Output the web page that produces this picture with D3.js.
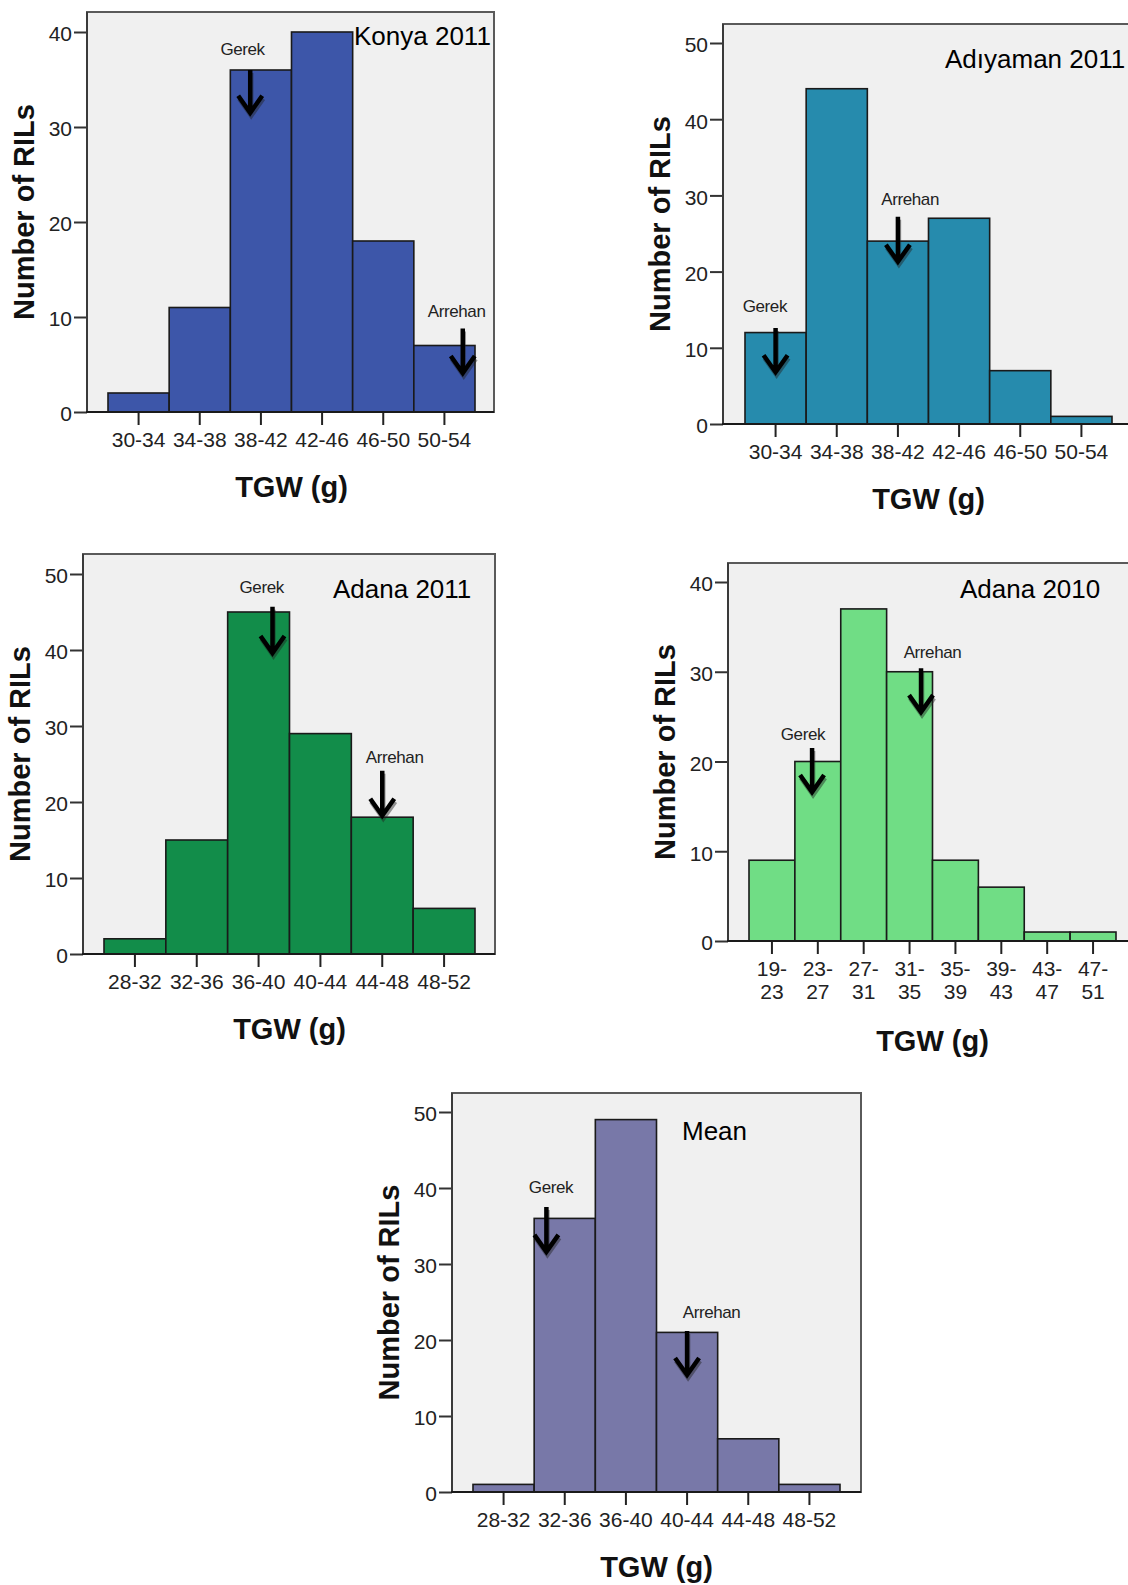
<!DOCTYPE html>
<html>
<head>
<meta charset="utf-8">
<script src="https://cdn.jsdelivr.net/npm/d3@7"></script>
<style>
  body { margin: 0; background: #fff; }
  svg text { font-family: "Liberation Sans", Arial, sans-serif; }
</style>
</head>
<body>
<div id="chart"></div>
<script>
// bins (TGW classes, g) and counts of RILs per bin
const konyaBins = ["30-34", "34-38", "38-42", "42-46", "46-50", "50-54"];
const konyaCounts = [2, 11, 36, 40, 18, 7];

const adiyamanBins = ["30-34", "34-38", "38-42", "42-46", "46-50", "50-54"];
const adiyamanCounts = [12, 44, 24, 27, 7, 1];

const adana2011Bins = ["28-32", "32-36", "36-40", "40-44", "44-48", "48-52"];
const adana2011Counts = [2, 15, 45, 29, 18, 6];

const adana2010Bins = ["19-23", "23-27", "27-31", "31-35", "35-39", "39-43", "43-47", "47-51"];
const adana2010Counts = [9, 20, 37, 30, 9, 6, 1, 1];

const meanBins = ["28-32", "32-36", "36-40", "40-44", "44-48", "48-52"];
const meanCounts = [1, 36, 49, 21, 7, 1];

// parent arrows: x in g (TGW), top / tip / label in counts
const konyaArrows = [
    { name: "Gerek", tgw: 39.3, top: 36.0, tip: 31.5, labelTgw: 38.8, labelY: 37.6 },
    { name: "Arrehan", tgw: 53.2, top: 8.8, tip: 4.1, labelTgw: 52.8, labelY: 10.0 }
];
const adiyamanArrows = [
    { name: "Gerek", tgw: 32.0, top: 12.6, tip: 6.8, labelTgw: 31.3, labelY: 14.7 },
    { name: "Arrehan", tgw: 40.0, top: 27.2, tip: 21.3, labelTgw: 40.8, labelY: 28.7 }
];
const adana2011Arrows = [
    { name: "Gerek", tgw: 38.9, top: 45.7, tip: 39.6, labelTgw: 38.2, labelY: 47.5 },
    { name: "Arrehan", tgw: 46.0, top: 24.1, tip: 18.2, labelTgw: 46.8, labelY: 25.1 }
];
const adana2010Arrows = [
    { name: "Gerek", tgw: 24.5, top: 21.5, tip: 16.6, labelTgw: 23.7, labelY: 22.4 },
    { name: "Arrehan", tgw: 34.0, top: 30.4, tip: 25.5, labelTgw: 35.0, labelY: 31.5 }
];
const meanArrows = [
    { name: "Gerek", tgw: 32.8, top: 37.5, tip: 31.6, labelTgw: 33.1, labelY: 39.3 },
    { name: "Arrehan", tgw: 42.0, top: 21.2, tip: 15.4, labelTgw: 43.6, labelY: 22.9 }
];

const xTitle = "TGW (g)";
const yTitle = "Number of RILs";

const panels = [
    { title: "Konya 2011", bins: konyaBins, counts: konyaCounts, arrows: konyaArrows, color: "#3d56a9",
      frame: { left: 87, right: 494, top: 12, bottom: 412 }, barRange: [108, 475], yMax: 40, yMaxPx: 32,
      titlePos: [354, 45] },
    { title: "Adıyaman 2011", bins: adiyamanBins, counts: adiyamanCounts, arrows: adiyamanArrows, color: "#268bad",
      frame: { left: 723, right: 1133, top: 24, bottom: 424 }, barRange: [745, 1112], yMax: 50, yMaxPx: 43,
      titlePos: [945, 68] },
    { title: "Adana 2011", bins: adana2011Bins, counts: adana2011Counts, arrows: adana2011Arrows, color: "#128d4a",
      frame: { left: 83, right: 495, top: 554, bottom: 954 }, barRange: [104, 475], yMax: 50, yMaxPx: 574,
      titlePos: [333, 598] },
    { title: "Adana 2010", bins: adana2010Bins, counts: adana2010Counts, arrows: adana2010Arrows, color: "#70dd85",
      frame: { left: 728, right: 1137, top: 563, bottom: 941 }, barRange: [749, 1116], yMax: 40, yMaxPx: 582,
      titlePos: [960, 598], twoLine: true },
    { title: "Mean", bins: meanBins, counts: meanCounts, arrows: meanArrows, color: "#7878a8",
      frame: { left: 452, right: 861, top: 1093, bottom: 1492 }, barRange: [473, 840], yMax: 50, yMaxPx: 1112,
      titlePos: [682, 1140] }
];

/**
 * draws one SPSS style histogram panel
 * @param {object} svg d3 selection of the svg
 * @param {object} p panel settings
 */
function renderHistogram(svg, p) {
    const f = p.frame;
    const g = svg.append("g");

    const xScale = d3.scaleBand()
                    .domain(p.bins)
                    .range(p.barRange)
                    .padding(0);
    const edges = p.bins.map(b => +b.split("-")[0]).concat([+p.bins[p.bins.length - 1].split("-")[1]]);
    const tgwScale = d3.scaleLinear()
                    .domain([edges[0], edges[edges.length - 1]])
                    .range(p.barRange);
    const yScale = d3.scaleLinear()
                    .domain([0, p.yMax])
                    .range([f.bottom, p.yMaxPx]);

    g.append("rect")
        .attr("x", f.left)
        .attr("y", f.top)
        .attr("width", f.right - f.left)
        .attr("height", f.bottom - f.top)
        .attr("fill", "#f0f0f0")
        .attr("stroke", "#5a5a5a")
        .attr("stroke-width", 2);

    g.append("g")
        .selectAll("rect")
        .data(p.counts)
        .enter()
        .append("rect")
        .attr("x", (d, i) => xScale(p.bins[i]))
        .attr("y", d => yScale(d))
        .attr("width", xScale.bandwidth())
        .attr("height", d => yScale(0) - yScale(d))
        .attr("fill", p.color)
        .attr("stroke", "#1a1a1a")
        .attr("stroke-width", 1.6);

    const yAxis = d3.axisLeft(yScale)
                    .tickValues(d3.range(0, p.yMax + 1, 10))
                    .tickSize(13)
                    .tickPadding(2);
    const yg = g.append("g")
        .attr("transform", `translate(${f.left},0)`)
        .call(yAxis);
    yg.select(".domain").remove();
    yg.selectAll("line").attr("stroke", "#333").attr("stroke-width", 2);
    yg.selectAll("text")
        .attr("font-size", 21)
        .attr("fill", "#222")
        .attr("dy", "0.42em");

    const xAxis = d3.axisBottom(xScale)
                    .tickSize(13)
                    .tickPadding(7);
    const xg = g.append("g")
        .attr("transform", `translate(0,${f.bottom})`)
        .call(xAxis);
    xg.select(".domain").remove();
    xg.selectAll("line").attr("stroke", "#222").attr("stroke-width", 2);
    xg.selectAll("text")
        .attr("font-size", 21)
        .attr("fill", "#222");
    if (p.twoLine) {
        xg.selectAll("text").each(function(d) {
            const parts = d.split("-");
            const t = d3.select(this).text(null);
            t.append("tspan").attr("x", 0).text(parts[0] + "-");
            t.append("tspan").attr("x", 0).attr("dy", 23).text(parts[1]);
        });
    }

    // axis lines
    g.append("line")
        .attr("x1", f.left).attr("x2", f.left)
        .attr("y1", f.top).attr("y2", f.bottom)
        .attr("stroke", "#3a3a3a")
        .attr("stroke-width", 2);
    g.append("line")
        .attr("x1", f.left - 1).attr("x2", f.right)
        .attr("y1", f.bottom).attr("y2", f.bottom)
        .attr("stroke", "#1a1a1a")
        .attr("stroke-width", 2);

    // parent arrows
    const arrowPath = a => {
        const x = tgwScale(a.tgw), y0 = yScale(a.top), y1 = yScale(a.tip);
        return `M${x},${y0}L${x},${y1 - 3}M${x - 12},${y1 - 17}L${x},${y1}L${x + 12},${y1 - 17}`;
    };
    const ag = g.append("g");
    ag.selectAll("path.shadow")
        .data(p.arrows)
        .enter()
        .append("path")
        .attr("d", arrowPath)
        .attr("transform", "translate(1,3)")
        .attr("fill", "none")
        .attr("stroke", "#222")
        .attr("stroke-opacity", 0.45)
        .attr("stroke-width", 4.5);
    ag.selectAll("path.arrow")
        .data(p.arrows)
        .enter()
        .append("path")
        .attr("d", arrowPath)
        .attr("fill", "none")
        .attr("stroke", "#000")
        .attr("stroke-width", 4.5);
    ag.selectAll("text")
        .data(p.arrows)
        .enter()
        .append("text")
        .attr("x", a => tgwScale(a.labelTgw))
        .attr("y", a => yScale(a.labelY))
        .attr("text-anchor", "middle")
        .attr("font-size", 17)
        .attr("letter-spacing", -0.4)
        .attr("fill", "#222")
        .text(a => a.name);

    // panel title
    g.append("text")
        .attr("x", p.titlePos[0])
        .attr("y", p.titlePos[1])
        .attr("font-size", 26)
        .attr("fill", "#000")
        .text(p.title);

    // axis titles
    const midX = (p.barRange[0] + p.barRange[1]) / 2;
    g.append("text")
        .attr("x", midX)
        .attr("y", f.bottom + (p.twoLine ? 110 : 85))
        .attr("text-anchor", "middle")
        .attr("font-size", 29)
        .attr("font-weight", "bold")
        .attr("fill", "#111")
        .text(xTitle);
    const midY = (f.top + f.bottom) / 2;
    g.append("text")
        .attr("transform", `translate(${f.left - 53},${midY}) rotate(-90)`)
        .attr("text-anchor", "middle")
        .attr("font-size", 29)
        .attr("font-weight", "bold")
        .attr("fill", "#111")
        .text(yTitle);
}

const svg = d3.select("#chart")
            .append("svg")
            .attr("width", 1128)
            .attr("height", 1585)
            .style("display", "block")
            .style("background", "#fff");

panels.forEach(p => renderHistogram(svg, p));
</script>
</body>
</html>
